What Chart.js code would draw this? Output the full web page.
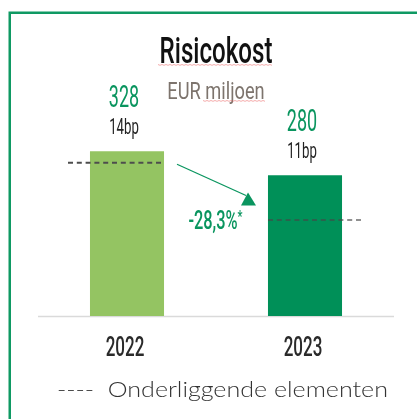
<!DOCTYPE html>
<html>
<head>
<meta charset="utf-8">
<script src="https://cdn.jsdelivr.net/npm/chart.js@4/dist/chart.umd.min.js"></script>
<style>
  html, body { margin: 0; padding: 0; background: #fff; overflow: hidden; }
  canvas { display: block; }
</style>
</head>
<body>
<canvas id="myChart" width="417" height="419"></canvas>
<script>
// chart data
const years = ['2022', '2023']
const values = [328, 280]
const bpLabels = ['14bp', '11bp']
const underlying = [305, 191]
const changeLabel = '-28,3%'
const title = 'Risicokost'
const subtitle = 'EUR miljoen'
const legendLabel = '----  Onderliggende elementen'

const green = '#0a955f'
const barColors = ['#94c462', '#009058']

// condensed text: draw with a horizontal squeeze
function txt(ctx, s, x, y, size, color, sx, weight) {
    ctx.save()
    ctx.font = (weight || '500') + ' ' + size + 'px Roboto'
    ctx.fillStyle = color
    ctx.textAlign = 'center'
    ctx.textBaseline = 'alphabetic'
    ctx.translate(x, y)
    ctx.scale(sx, 1)
    ctx.fillText(s, 0, 0)
    ctx.restore()
}

function squiggle(ctx, x1, x2, y) {
    ctx.save()
    ctx.strokeStyle = 'rgba(235,90,90,0.5)'
    ctx.lineWidth = 1
    ctx.beginPath()
    ctx.moveTo(x1, y)
    for (let x = x1; x <= x2; x += 2) {
        ctx.lineTo(x, y + ((x - x1) / 2 % 2 ? 0.8 : 0))
    }
    ctx.stroke()
    ctx.restore()
}

const decor = {
    id: 'decor',
    beforeDraw(chart) {
        const ctx = chart.ctx
        // frame
        ctx.save()
        ctx.strokeStyle = '#0f9963'
        ctx.lineWidth = 2.5
        ctx.strokeRect(9.75, 12.75, 600, 600)
        ctx.restore()
        // axis line
        const a = chart.chartArea
        ctx.save()
        ctx.strokeStyle = '#dadada'
        ctx.lineWidth = 1.5
        ctx.beginPath()
        ctx.moveTo(a.left, a.bottom + 0.5)
        ctx.lineTo(a.right, a.bottom + 0.5)
        ctx.stroke()
        ctx.restore()
    },
    afterDatasetsDraw(chart) {
        const ctx = chart.ctx
        const xs = chart.scales.x
        const ys = chart.scales.y
        const meta = chart.getDatasetMeta(0)

        // title
        txt(ctx, title, 216, 63, 36, '#111', 0.67)
        squiggle(ctx, 158, 273, 64.5)
        txt(ctx, subtitle, 216, 99, 24, '#7d746d', 0.76, '400')
        squiggle(ctx, 203, 265, 100.5)

        // dashed underlying lines
        const dashSpan = [[-59, 34], [-37, 57]]
        const dashColor = ['#4d4d4d', 'rgba(70,70,70,0.6)']
        underlying.forEach((v, i) => {
            const cx = meta.data[i].x
            const y = ys.getPixelForValue(v)
            ctx.save()
            ctx.strokeStyle = dashColor[i]
            ctx.lineWidth = 1.8
            ctx.setLineDash([5, 3.8])
            ctx.beginPath()
            ctx.moveTo(cx + dashSpan[i][0], y)
            ctx.lineTo(cx + dashSpan[i][1], y)
            ctx.stroke()
            ctx.restore()
        })

        // values and bp above bars
        values.forEach((v, i) => {
            const bar = meta.data[i]
            txt(ctx, String(v), bar.x - 3, bar.y - 44, 31, green, 0.58, '400')
            txt(ctx, bpLabels[i], bar.x - 3, bar.y - 17, 22, '#222', 0.6, '400')
        })

        // year labels
        years.forEach((y, i) => {
            txt(ctx, y, xs.getPixelForValue(i) - 2, 356, 27, '#2a2a2a', 0.63)
        })

        // arrow between underlying values
        const y0 = ys.getPixelForValue(underlying[0]) + 1.5
        const y1 = ys.getPixelForValue(underlying[1]) - 27.5
        const x0 = meta.data[0].x + 50
        const x1 = meta.data[1].x - 57
        ctx.save()
        ctx.strokeStyle = green
        ctx.fillStyle = green
        ctx.lineWidth = 1.3
        ctx.beginPath()
        ctx.moveTo(x0, y0)
        ctx.lineTo(x1 - 2, y1 + 3)
        ctx.stroke()
        ctx.beginPath()
        ctx.moveTo(x1, y1)
        ctx.lineTo(x1 + 8, y1 + 13)
        ctx.lineTo(x1 - 7, y1 + 13)
        ctx.closePath()
        ctx.fill()
        ctx.restore()

        // change label
        txt(ctx, changeLabel, 213, 229, 26, green, 0.63)
        txt(ctx, '*', 240, 222, 16, green, 0.7)

        // legend
        ctx.save()
        ctx.font = '300 22px Lato'
        ctx.fillStyle = '#333'
        ctx.textAlign = 'left'
        const w = ctx.measureText(legendLabel).width
        ctx.translate(57, 397)
        ctx.scale(331 / w, 1)
        ctx.fillText(legendLabel, 0, 0)
        ctx.restore()
    }
}

const ctx = document.getElementById('myChart')

new Chart(ctx, {
    type: 'bar',
    data: {
        labels: years,
        datasets: [{
            label: title,
            data: values,
            backgroundColor: barColors,
            borderWidth: 0,
            barPercentage: 0.416,
            categoryPercentage: 1
        }]
    },
    options: {
        responsive: false,
        animation: false,
        layout: {
            padding: { left: 38, right: 23, top: 115, bottom: 103 }
        },
        plugins: {
            legend: { display: false },
            tooltip: { enabled: false }
        },
        scales: {
            x: { display: false, offset: true },
            y: { display: false, min: 0, max: 400 }
        }
    },
    plugins: [decor]
});
</script>
</body>
</html>
